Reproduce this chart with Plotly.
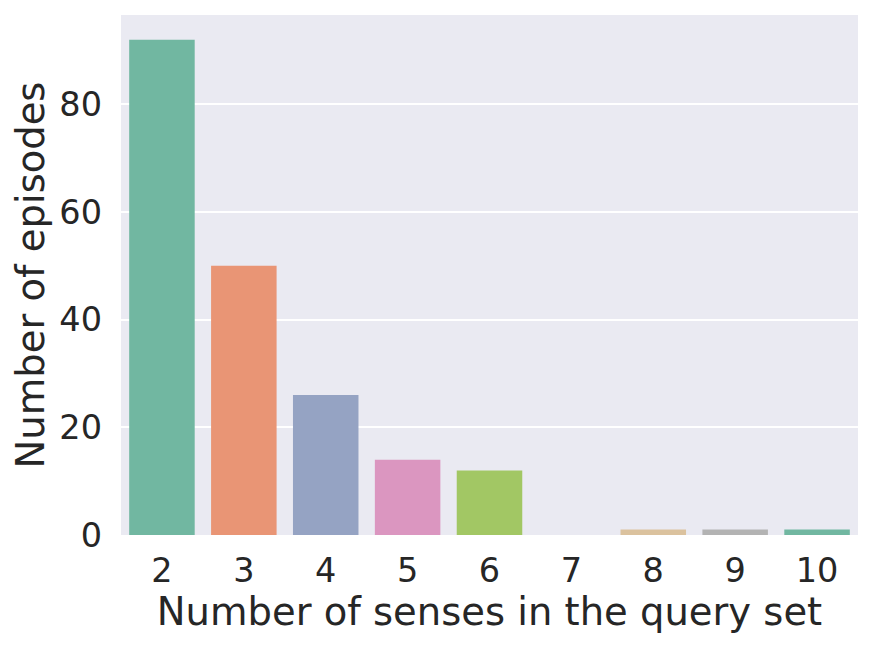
import plotly.graph_objects as go

senses = ["2", "3", "4", "5", "6", "7", "8", "9", "10"]
episodes = [92, 50, 26, 14, 12, 0, 1, 1, 1]
bar_colors = ["#71b7a1", "#e99575", "#95a3c3", "#db96c0", "#a2c764",
              "#e5c849", "#dbc29e", "#b3b3b3", "#71b7a1"]
y_ticks = [0, 20, 40, 60, 80]

FONT = "DejaVu Sans, sans-serif"
TEXT = "#262626"

fig = go.Figure(go.Bar(
    x=senses, y=episodes,
    marker=dict(color=bar_colors, line=dict(width=0)),
    width=0.8,
))

# the page body adds an 8px margin, so the figure is shrunk to compensate
fig.update_layout(
    width=863, height=639,
    paper_bgcolor="white",
    plot_bgcolor="#eaeaf2",
    margin=dict(l=113, r=13, t=7, b=112),
    showlegend=False,
    font=dict(family=FONT, color=TEXT),
    xaxis=dict(
        type="category",
        range=[-0.5, 8.5],
        automargin=False,
        showgrid=False, zeroline=False,
        tickfont=dict(size=33.5, color=TEXT),
        ticks="", ticklen=0, ticklabelstandoff=12,
        title=dict(text="Number of senses in the query set",
                   font=dict(size=38.5, color=TEXT), standoff=8),
    ),
    yaxis=dict(
        range=[0, 96.6],
        automargin=False,
        tickvals=y_ticks,
        showgrid=True, gridcolor="white", gridwidth=1.5,
        zeroline=False,
        tickfont=dict(size=33.5, color=TEXT),
        ticks="", ticklen=0, ticklabelstandoff=18,
        title=dict(text="Number of episodes",
                   font=dict(size=38.5, color=TEXT), standoff=6),
    ),
)

fig.write_html("out.html")
